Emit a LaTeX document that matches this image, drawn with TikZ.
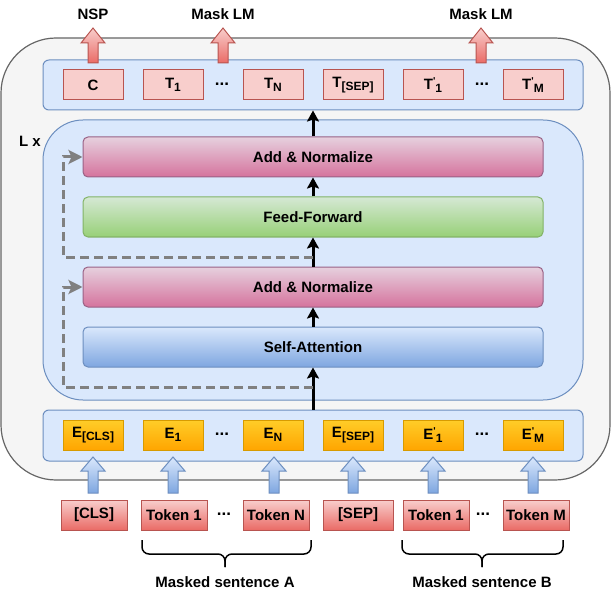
\documentclass[tikz,border=0pt]{standalone}
\usepackage{fontspec}
\setmainfont{Liberation Sans}
\usetikzlibrary{arrows.meta}
\definecolor{outerfill}{HTML}{F5F5F5}
\definecolor{outerdraw}{HTML}{666666}
\definecolor{bluefill}{HTML}{DAE8FC}
\definecolor{bluedraw}{HTML}{6C8EBF}
\definecolor{bluedark}{HTML}{7EA6E0}
\definecolor{pinkfill}{HTML}{F8CECC}
\definecolor{pinkdraw}{HTML}{B85450}
\definecolor{reddark}{HTML}{EA6B66}
\definecolor{mauvetop}{HTML}{E6D0DE}
\definecolor{mauvebot}{HTML}{D5739D}
\definecolor{mauvedraw}{HTML}{996185}
\definecolor{greentop}{HTML}{D5E8D4}
\definecolor{greenbot}{HTML}{97D077}
\definecolor{greendraw}{HTML}{82B366}
\definecolor{orangetop}{HTML}{FFCD28}
\definecolor{orangebot}{HTML}{FFA500}
\definecolor{orangedraw}{HTML}{D79B00}
\definecolor{dashgray}{HTML}{808080}
\newcommand\sbs[1]{\raisebox{-0.4ex}{\fontsize{12}{12}\selectfont #1}}
\newcommand\prm{\raisebox{0.55ex}{\fontsize{10}{10}\selectfont\textquotesingle}}
\newcommand\blkarrow[5]{%
  \path[#5] ({#1-12},#3) -- (#1,#2) -- ({#1+12},#3) -- ({#1+5},#3) -- ({#1+5},#4) -- ({#1-5},#4) -- ({#1-5},#3) -- cycle;}
\begin{document}
\begin{tikzpicture}[x=1pt,y=-1pt,
  lbl/.style={font=\bfseries\fontsize{15}{17}\selectfont, inner sep=0},
  cell/.style={draw, minimum width=60pt, minimum height=30pt, inner sep=0, line width=1pt, font=\bfseries\fontsize{15}{17}\selectfont},
  tcell/.style={cell, fill=pinkfill, draw=pinkdraw},
  ecell/.style={cell, top color=orangetop, bottom color=orangebot, draw=orangedraw},
  tok/.style={cell, minimum width=66pt, top color=pinkfill, bottom color=reddark, draw=pinkdraw},
  layerbox/.style={draw, rounded corners=5pt, minimum width=460pt, minimum height=40pt, inner sep=0, line width=1pt, font=\bfseries\fontsize{15}{17}\selectfont},
  container/.style={draw=bluedraw, fill=bluefill, line width=1pt, minimum width=540pt, inner sep=0},
  flow/.style={line width=3pt, -{Stealth[length=11pt,width=12pt,inset=2pt]}},
  skip/.style={dashgray, line width=3pt, dash pattern=on 9pt off 5pt, -{Stealth[length=14pt,width=14pt,inset=3pt]}},
  redarrow/.style={draw=pinkdraw, top color=pinkfill, bottom color=reddark, line width=1pt},
  bluearrow/.style={draw=bluedraw, top color=bluefill, bottom color=bluedark, line width=1pt},
  dots/.style={font=\bfseries\fontsize{17}{18}\selectfont, inner sep=0}]
\useasboundingbox (0,0) rectangle (611,599);
% outer container
\draw[fill=outerfill, draw=outerdraw, line width=1.2pt, rounded corners=55pt] (1,38) rectangle (610,480);
% containers
\node[container, rounded corners=6pt, minimum height=50pt] (topc) at (313,85) {};
\node[container, rounded corners=40pt, minimum height=280pt] (enc) at (313,260) {};
\node[container, rounded corners=6pt, minimum height=51pt] (embc) at (313,435.5) {};
% top outputs
\node[tcell] (c) at (93,85) {C};
\node[tcell] (t1) at (173,85) {T\sbs{1}};
\node[dots] (tdots1) at (222,84) {...};
\node[tcell] (tn) at (273,85) {T\sbs{N}};
\node[tcell] (tsep) at (353,85) {T\sbs{[SEP]}};
\node[tcell] (tp1) at (433,85) {T\prm\sbs{1}};
\node[dots] (tdots2) at (482,84) {...};
\node[tcell] (tpm) at (533,85) {T\prm\sbs{M}};
% output arrows and labels
\blkarrow{93}{28}{43}{63}{redarrow}
\blkarrow{223}{28}{43}{63}{redarrow}
\blkarrow{481}{28}{43}{63}{redarrow}
\node[lbl] (nsp) at (93,14) {NSP};
\node[lbl] (mlm1) at (223,14) {Mask LM};
\node[lbl] (mlm2) at (481,14) {Mask LM};
% encoder layers
\node[lbl] (lx) at (30,141) {L x};
\node[layerbox, top color=mauvetop, bottom color=mauvebot, draw=mauvedraw] (an1) at (313,157) {Add \& Normalize};
\node[layerbox, top color=greentop, bottom color=greenbot, draw=greendraw] (ff) at (313,217) {Feed-Forward};
\node[layerbox, top color=mauvetop, bottom color=mauvebot, draw=mauvedraw] (an2) at (313,287) {Add \& Normalize};
\node[layerbox, top color=bluefill, bottom color=bluedark, draw=bluedraw] (sa) at (313,347) {Self-Attention};
% embeddings
\node[ecell] (ecls) at (93,435) {E\sbs{[CLS]}};
\node[ecell] (e1) at (173,435) {E\sbs{1}};
\node[dots] (edots1) at (222,434) {...};
\node[ecell] (en) at (273,435) {E\sbs{N}};
\node[ecell] (esep) at (353,435) {E\sbs{[SEP]}};
\node[ecell] (ep1) at (433,435) {E\prm\sbs{1}};
\node[dots] (edots2) at (482,434) {...};
\node[ecell] (epm) at (533,435) {E\prm\sbs{M}};
% tokens
\node[tok] (kcls) at (94,515) {[CLS]};
\node[tok] (ka1) at (174,515) {Token 1};
\node[dots] (kdots1) at (224,514) {...};
\node[tok] (kan) at (276,515) {Token N};
\node[tok, minimum width=70pt] (ksep) at (358,515) {[SEP]};
\node[tok] (kb1) at (436,515) {Token 1};
\node[dots] (kdots2) at (483,514) {...};
\node[tok] (kbm) at (536,515) {Token M};
% input arrows
\blkarrow{93}{457}{471}{493}{bluearrow}
\blkarrow{173}{457}{471}{493}{bluearrow}
\blkarrow{274}{457}{471}{493}{bluearrow}
\blkarrow{353}{457}{471}{493}{bluearrow}
\blkarrow{433}{457}{471}{493}{bluearrow}
\blkarrow{533}{457}{471}{493}{bluearrow}
% main flow
\draw[flow] (embc.north) -- (sa.south);
\draw[flow] (sa.north) -- (an2.south);
\draw[flow] (an2.north) -- (ff.south);
\draw[flow] (ff.north) -- (an1.south);
\draw[flow] (an1.north) -- (topc.south);
% residual connections
\coordinate (r1) at (313,387);
\coordinate (r2) at (313,257);
\draw[skip] (r1) -- (63,387) -- (63,287) -- (an2.west);
\draw[skip] (r2) -- (63,257) -- (63,157) -- (an1.west);
% braces
\draw[line width=1.5pt, rounded corners=7pt] (142,540) -- (142,554) -- (225,554) -- (225,567);
\draw[line width=1.5pt, rounded corners=7pt] (225,567) -- (225,554) -- (311,554) -- (311,540);
\draw[line width=1.5pt, rounded corners=7pt] (402,540) -- (402,554) -- (482,554) -- (482,567);
\draw[line width=1.5pt, rounded corners=7pt] (482,567) -- (482,554) -- (563,554) -- (563,540);
\node[lbl] (msa) at (225,582) {Masked sentence A};
\node[lbl] (msb) at (482,582) {Masked sentence B};
\end{tikzpicture}
\end{document}
